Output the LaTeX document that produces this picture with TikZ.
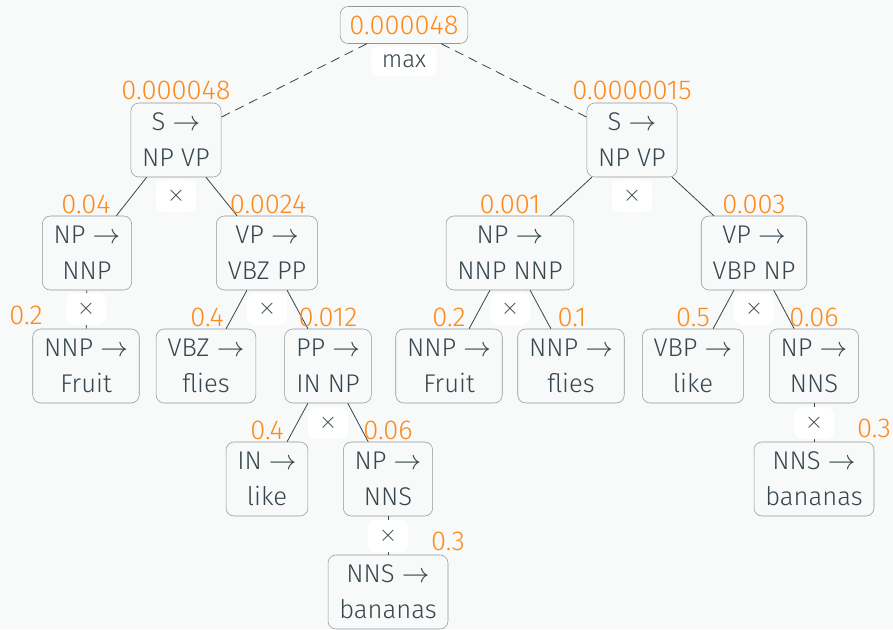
\documentclass[tikz,border=0pt]{standalone}
\usepackage{fontspec}
\setmainfont{Fira Sans Light}
\definecolor{ink}{HTML}{36464E}
\definecolor{prob}{HTML}{FF8A1C}
\definecolor{rim}{HTML}{8E989C}
\definecolor{paper}{HTML}{F8F9F9}
\begin{document}
\begin{tikzpicture}[x=0.75pt,y=-0.75pt,
    rule/.style={draw=rim,rounded corners=6pt,fill=paper,text=ink,align=center,
      minimum height=55.5pt,inner xsep=8.5pt,font=\fontsize{19.2}{27}\selectfont},
    score/.style={text=prob,inner sep=0pt,font=\fontsize{20.5}{24}\selectfont},
    times/.style={fill=white,rounded corners=6pt,minimum width=30pt,minimum height=24pt,
      text=ink,font=\fontsize{18.5}{22}\selectfont},
    branch/.style={ink,line width=0.6pt}]
\path[use as bounding box,fill=paper] (0,0) rectangle (893,629);

\node[rule,minimum height=27.75pt,text=prob,font=\fontsize{20.5}{24}\selectfont,inner xsep=7pt] (top) at (404,25) {0.000048};
\node[rule] (sL) at (176,140) {S $\rightarrow$\\NP VP};
\node[rule] (sR) at (632,140) {S $\rightarrow$\\NP VP};

\node[rule] (npL) at (87,253) {NP $\rightarrow$\\NNP};
\node[rule] (vpL) at (267,253) {VP $\rightarrow$\\VBZ PP};
\node[rule] (npR) at (510,253) {NP $\rightarrow$\\NNP NNP};
\node[rule] (vpR) at (754,253) {VP $\rightarrow$\\VBP NP};

\node[rule] (fruitL) at (86,366) {NNP $\rightarrow$\\Fruit};
\node[rule] (fliesL) at (206,366) {VBZ $\rightarrow$\\flies};
\node[rule] (ppL) at (328,366) {PP $\rightarrow$\\IN NP};
\node[rule] (fruitR) at (449,366) {NNP $\rightarrow$\\Fruit};
\node[rule] (fliesR) at (571,366) {NNP $\rightarrow$\\flies};
\node[rule] (likeR) at (693,366) {VBP $\rightarrow$\\like};
\node[rule] (nnsR) at (814,366) {NP $\rightarrow$\\NNS};

\node[rule] (likeL) at (267,479) {IN $\rightarrow$\\like};
\node[rule] (nnsL) at (388,479) {NP $\rightarrow$\\NNS};
\node[rule] (banR) at (814,479) {NNS $\rightarrow$\\bananas};
\node[rule] (banL) at (388,592) {NNS $\rightarrow$\\bananas};

\draw[branch,dash pattern=on 7pt off 4.5pt] (top) -- (sL);
\draw[branch,dash pattern=on 7pt off 4.5pt] (top) -- (sR);
\draw[branch] (sL) -- (npL);
\draw[branch] (sL) -- (vpL);
\draw[branch] (sR) -- (npR);
\draw[branch] (sR) -- (vpR);
\draw[branch] (npL) -- (fruitL);
\draw[branch] (vpL) -- (fliesL);
\draw[branch] (vpL) -- (ppL);
\draw[branch] (npR) -- (fruitR);
\draw[branch] (npR) -- (fliesR);
\draw[branch] (vpR) -- (likeR);
\draw[branch] (vpR) -- (nnsR);
\draw[branch] (ppL) -- (likeL);
\draw[branch] (ppL) -- (nnsL);
\draw[branch] (nnsL) -- (banL);
\draw[branch] (nnsR) -- (banR);

\node[times,minimum width=49pt,minimum height=22.5pt,font=\fontsize{18}{20}\selectfont] (mx) at (404,61) {max};
\node[times] (x1) at (176,196) {$\times$};
\node[times] (x2) at (632,196) {$\times$};
\node[times] (x3) at (86,309) {$\times$};
\node[times] (x4) at (267,309) {$\times$};
\node[times] (x5) at (510,309) {$\times$};
\node[times] (x6) at (754,309) {$\times$};
\node[times] (x7) at (328,423) {$\times$};
\node[times] (x8) at (388,536) {$\times$};
\node[times] (x9) at (814,423) {$\times$};

\node[score] (p1) at (176,90) {0.000048};
\node[score] (p2) at (632,90) {0.0000015};
\node[score] (p3) at (86,204) {0.04};
\node[score] (p4) at (268,204) {0.0024};
\node[score] (p5) at (510,204) {0.001};
\node[score] (p6) at (754,204) {0.003};
\node[score] (p7) at (26,315) {0.2};
\node[score] (p8) at (207,317) {0.4};
\node[score] (p9) at (328,317) {0.012};
\node[score] (p10) at (449,317) {0.2};
\node[score] (p11) at (572,317) {0.1};
\node[score] (p12) at (693,317) {0.5};
\node[score] (p13) at (814,317) {0.06};
\node[score] (p14) at (267,430) {0.4};
\node[score] (p15) at (388,430) {0.06};
\node[score] (p16) at (874,428) {0.3};
\node[score] (p17) at (448,541) {0.3};
\end{tikzpicture}
\end{document}
